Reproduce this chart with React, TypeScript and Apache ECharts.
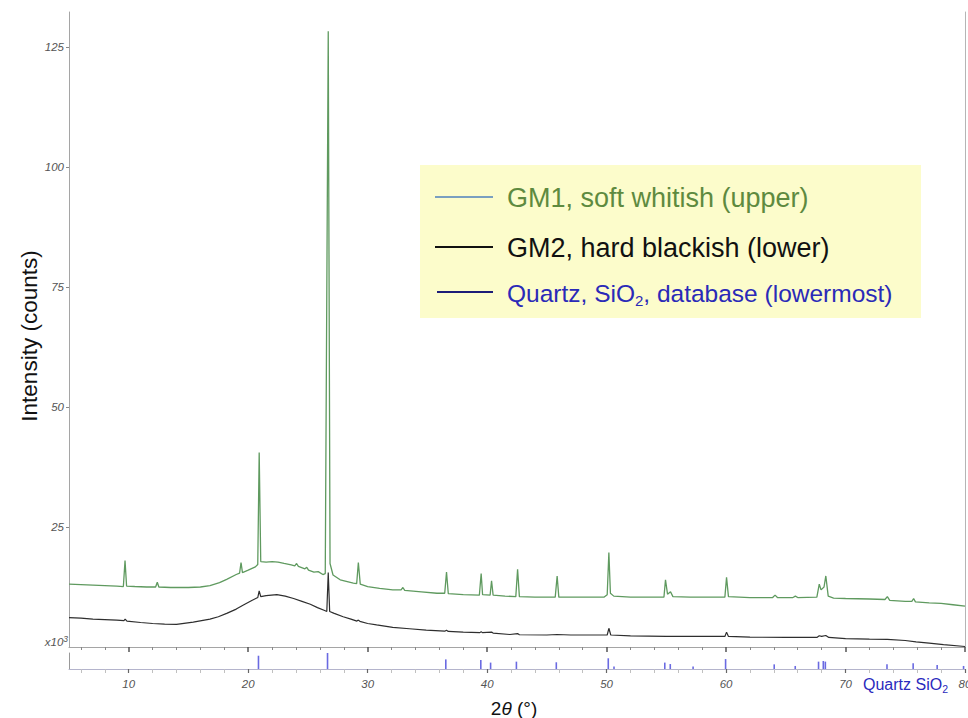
import React, { useEffect, useRef } from 'react';
import * as echarts from 'echarts';

// 2θ (degrees) and intensity (x10^3 counts)
const gm1Theta = [
  5.0, 6.0, 7.0, 8.0, 9.0, 9.55, 9.69, 9.82, 10.5, 11.5, 12.25, 12.39, 12.52, 13.5, 15.0, 16.0, 16.8, 17.6, 18.2, 19.0,
  19.28, 19.4, 19.52, 20.0, 20.6, 20.8, 20.92, 21.05, 21.5, 22.0, 22.5, 23.0, 23.6, 23.9, 24.05, 24.2, 24.75, 24.9, 25.05, 25.5,
  25.86, 26.25, 26.45, 26.7, 26.85, 27.1, 27.7, 28.8, 29.08, 29.22, 29.38, 30.0, 31.0, 32.1, 32.8, 32.95, 33.1, 34.5, 35.8, 36.45,
  36.6, 36.75, 38.0, 39.35, 39.5, 39.62, 40.25, 40.37, 40.5, 41.5, 42.4, 42.55, 42.7, 44.0, 45.7, 45.86, 46.0, 48.0, 49.8, 50.05,
  50.19, 50.32, 50.6, 52.0, 54.8, 54.93, 55.1, 55.35, 55.55, 57.0, 59.9, 60.04, 60.2, 62.0, 63.9, 64.1, 64.3, 65.6, 65.8, 66.0,
  67.6, 67.8, 67.95, 68.2, 68.35, 68.55, 69.0, 70.0, 72.0, 73.3, 73.5, 73.7, 75.0, 75.55, 75.7, 75.85, 77.0, 78.0, 79.0, 80.0,
];
const gm1Counts = [
  13.1, 13.0, 12.9, 12.8, 12.7, 12.6, 18.0, 12.7, 12.6, 12.5, 12.5, 13.5, 12.5, 12.4, 12.4, 12.5, 12.8, 13.4, 14.1, 15.1,
  15.4, 17.6, 15.5, 16.0, 16.7, 17.2, 40.5, 17.8, 17.7, 17.8, 17.7, 17.4, 17.1, 16.9, 17.4, 16.8, 16.3, 16.6, 16.0, 15.6,
  15.7, 15.1, 15.3, 128.3, 17.4, 15.0, 14.0, 13.3, 13.2, 17.6, 13.1, 12.6, 12.2, 11.9, 11.9, 12.4, 11.8, 11.5, 11.2, 11.2,
  15.6, 11.1, 10.9, 10.8, 15.3, 10.9, 10.8, 13.8, 10.8, 10.6, 10.5, 16.2, 10.5, 10.4, 10.4, 14.8, 10.4, 10.4, 10.4, 10.9,
  19.7, 11.2, 10.6, 10.4, 10.4, 14.0, 11.0, 11.5, 10.5, 10.4, 10.4, 14.5, 10.5, 10.3, 10.3, 10.8, 10.3, 10.3, 10.6, 10.3,
  10.4, 13.1, 11.9, 12.5, 14.8, 10.6, 10.2, 10.1, 10.0, 9.9, 10.5, 9.7, 9.5, 9.5, 10.1, 9.4, 9.2, 9.1, 8.8, 8.5,
];

const gm2Theta = [
  5.0, 6.0, 7.0, 8.0, 9.0, 9.6, 9.7, 9.85, 11.0, 12.0, 13.0, 14.0, 15.4, 16.8, 17.5, 18.2, 19.0, 19.6, 20.3, 20.8,
  20.92, 21.05, 21.5, 22.4, 23.1, 23.8, 24.5, 25.2, 25.8, 26.4, 26.58, 26.7, 26.82, 27.2, 27.95, 28.6, 29.1, 29.22, 29.35, 30.0,
  30.75, 32.1, 33.5, 34.9, 36.45, 36.6, 36.75, 38.0, 39.4, 39.5, 39.6, 40.37, 40.5, 41.9, 42.55, 42.7, 45.0, 45.86, 47.0, 50.05,
  50.19, 50.35, 52.0, 55.0, 57.0, 59.9, 60.04, 60.2, 62.0, 65.0, 67.6, 67.8, 68.0, 68.35, 68.6, 70.0, 72.0, 73.5, 75.0, 75.9,
  77.0, 78.2, 80.0,
];
const gm2Counts = [
  6.1, 6.0, 5.8, 5.7, 5.6, 5.5, 5.8, 5.4, 5.1, 4.9, 4.75, 4.7, 5.2, 5.8, 6.3, 7.0, 7.9, 8.75, 9.7, 10.3,
  11.7, 10.5, 10.7, 10.9, 10.6, 10.1, 9.5, 8.9, 8.2, 7.6, 7.4, 15.5, 7.4, 7.0, 6.3, 5.8, 5.4, 5.6, 5.35, 4.9,
  4.6, 4.1, 3.8, 3.5, 3.3, 3.5, 3.25, 3.1, 3.0, 3.2, 3.0, 3.1, 2.9, 2.6, 2.8, 2.55, 2.5, 2.6, 2.5, 2.5,
  3.9, 2.5, 2.3, 2.2, 2.2, 2.2, 3.1, 2.2, 2.05, 2.0, 2.0, 2.35, 2.2, 2.4, 2.0, 1.75, 1.65, 1.6, 1.35, 1.05,
  0.8, 0.5, 0.1,
];

// Quartz database stick pattern (relative intensity as drawn)
const quartzTheta = [
  20.86, 26.64, 36.54, 39.47, 40.29, 42.45, 45.79, 50.14, 50.62, 54.87, 55.33, 57.24, 59.96, 64.03, 65.79, 67.74, 68.14, 68.31,
  73.47, 75.66, 77.67, 79.88,
];
const quartzRel = [83, 100, 60, 56, 40, 46, 42, 67, 15, 40, 31, 15, 62, 29, 19, 46, 50, 46, 29, 36, 25, 19];

const yTickValues = [25, 50, 75, 100, 125];
const xMajorTicks = [10, 20, 30, 40, 50, 60, 70, 80];
const xMinorTicks = [
  6, 8, 12, 14, 16, 18, 22, 24, 26, 28, 32, 34, 36, 38, 42, 44, 46, 48, 52, 54, 56, 58, 62, 64, 66, 68, 72, 74, 76, 78,
];

const legendLabels = ['GM1, soft whitish (upper)', 'GM2, hard blackish (lower)'];

const FONT = '"Liberation Sans", Arial, sans-serif';

export default function App() {
  const ref = useRef<HTMLDivElement>(null);

  useEffect(() => {
    if (!ref.current) return;
    const chart = echarts.init(ref.current, undefined, { renderer: 'svg' });

    const gm1 = gm1Theta.map((t, i) => [t, gm1Counts[i]]);
    const gm2 = gm2Theta.map((t, i) => [t, gm2Counts[i]]);
    const sticks = quartzTheta.map((t, i) => [t, quartzRel[i]]);

    const tickLabelStyle = { fontStyle: 'italic', fontSize: 11.5, color: '#555', fontFamily: FONT };

    chart.setOption({
      animation: false,
      backgroundColor: '#ffffff',
      grid: [
        { left: 69, top: 12, width: 896, height: 635, outerBoundsMode: 'none' },
        { left: 69, top: 653, width: 896, height: 16, outerBoundsMode: 'none' },
      ],
      xAxis: [
        {
          gridIndex: 0, type: 'value', position: 'bottom', min: 5, max: 80,
          axisLine: { show: true, lineStyle: { color: '#a5a5a5', width: 1 } },
          axisTick: { show: true, customValues: xMajorTicks, length: 5, lineStyle: { color: '#555', width: 1.5 } },
          axisLabel: { show: false },
          splitLine: { show: false },
        },
        {
          gridIndex: 0, type: 'value', position: 'bottom', min: 5, max: 80,
          axisLine: { show: false },
          axisTick: { show: true, customValues: xMinorTicks, length: 3, lineStyle: { color: '#888', width: 1 } },
          axisLabel: { show: false },
          splitLine: { show: false },
        },
        {
          gridIndex: 1, type: 'value', position: 'bottom', min: 5, max: 80,
          axisLine: { show: true, lineStyle: { color: '#b4b4cc', width: 1 } },
          axisTick: { show: true, customValues: xMajorTicks, length: 4, lineStyle: { color: '#666', width: 1.2 } },
          axisLabel: { show: true, customValues: xMajorTicks, margin: 9, hideOverlap: false, ...tickLabelStyle },
          splitLine: { show: false },
        },
        {
          gridIndex: 1, type: 'value', position: 'bottom', min: 5, max: 80,
          axisLine: { show: false },
          axisTick: { show: true, customValues: xMinorTicks, length: 4, lineStyle: { color: '#c0c0c0', width: 1 } },
          axisLabel: { show: false },
          splitLine: { show: false },
        },
      ],
      yAxis: [
        {
          gridIndex: 0, type: 'value', position: 'left', min: 0, max: 132.3,
          axisLine: { show: true, lineStyle: { color: '#a5a5a5', width: 1 } },
          axisTick: { show: true, customValues: yTickValues, length: 3, lineStyle: { color: '#888' } },
          axisLabel: { show: true, customValues: yTickValues, margin: 5, ...tickLabelStyle },
          splitLine: { show: false },
        },
        {
          gridIndex: 0, type: 'value', position: 'right', min: 0, max: 132.3,
          axisLine: { show: true, lineStyle: { color: '#b5b5b5', width: 1 } },
          axisTick: { show: false },
          axisLabel: { show: false },
          splitLine: { show: false },
        },
        {
          gridIndex: 1, type: 'value', position: 'left', min: 0, max: 100,
          axisLine: { show: true, lineStyle: { color: '#999', width: 1 } },
          axisTick: { show: false },
          axisLabel: { show: false },
          splitLine: { show: false },
        },
      ],
      series: [
        {
          name: legendLabels[0], type: 'line', xAxisIndex: 0, yAxisIndex: 0, data: gm1,
          showSymbol: false, symbol: 'none', lineStyle: { color: '#5f9a5f', width: 1.3 },
          itemStyle: { color: '#5f9a5f' }, z: 3,
        },
        {
          name: legendLabels[1], type: 'line', xAxisIndex: 0, yAxisIndex: 0, data: gm2,
          showSymbol: false, symbol: 'none', lineStyle: { color: '#2e2e2e', width: 1.2 },
          itemStyle: { color: '#2e2e2e' }, z: 3,
        },
        {
          name: 'Quartz SiO2', type: 'custom', xAxisIndex: 2, yAxisIndex: 2, data: sticks,
          encode: { x: 0, y: 1 },
          renderItem: (_params: any, api: any) => {
            const x = api.value(0);
            const h = api.value(1);
            const p0 = api.coord([x, 0]);
            const p1 = api.coord([x, h]);
            return {
              type: 'line',
              shape: { x1: p0[0], y1: p0[1], x2: p1[0], y2: p1[1] },
              style: { stroke: '#6a6ae2', lineWidth: 1.6 },
            };
          },
        },
      ],
      graphic: [
        {
          type: 'rect', z: 10,
          shape: { x: 420, y: 165, width: 501, height: 153 },
          style: { fill: '#fcfccb' },
        },
        {
          type: 'line', z: 11,
          shape: { x1: 435, y1: 197, x2: 493, y2: 197 },
          style: { stroke: '#4f81bd', lineWidth: 1.5 },
        },
        {
          type: 'text', z: 11, x: 507, y: 198,
          style: { text: legendLabels[0], fill: '#5e8a3f', fontSize: 27, fontFamily: FONT, verticalAlign: 'middle' },
        },
        {
          type: 'line', z: 11,
          shape: { x1: 435, y1: 247, x2: 493, y2: 247 },
          style: { stroke: '#111', lineWidth: 1.8 },
        },
        {
          type: 'text', z: 11, x: 507, y: 248,
          style: { text: legendLabels[1], fill: '#111', fontSize: 27, fontFamily: FONT, verticalAlign: 'middle' },
        },
        {
          type: 'line', z: 11,
          shape: { x1: 437, y1: 292, x2: 493, y2: 292 },
          style: { stroke: '#1c1c78', lineWidth: 1.8 },
        },
        {
          type: 'text', z: 11, x: 507, y: 293,
          style: {
            text: '{a|Quartz, SiO}{s|2}{a|, database (lowermost)}',
            verticalAlign: 'middle',
            rich: {
              a: { fontSize: 24.5, fontFamily: FONT, fill: '#2a2ab8', lineHeight: 30 },
              s: { fontSize: 15, fontFamily: FONT, fill: '#2a2ab8', lineHeight: 18, verticalAlign: 'bottom' },
            },
          },
        },
        {
          type: 'text', x: 29, y: 336, rotation: Math.PI / 2,
          style: { text: 'Intensity (counts)', fill: '#111', fontSize: 22.5, fontFamily: FONT, align: 'center', verticalAlign: 'middle' },
        },
        {
          type: 'text', x: 514, y: 708,
          style: {
            text: '{a|2}{b|θ}{a| (°)}',
            align: 'center', verticalAlign: 'middle',
            rich: {
              a: { fontSize: 19, fontFamily: FONT, fill: '#111' },
              b: { fontSize: 19, fontFamily: FONT, fill: '#111', fontStyle: 'italic' },
            },
          },
        },
        {
          type: 'text', x: 68, y: 641,
          style: {
            text: '{a|x10}{b|3}',
            align: 'right', verticalAlign: 'middle',
            rich: {
              a: { fontSize: 11.5, fontFamily: FONT, fill: '#555', fontStyle: 'italic', lineHeight: 14, verticalAlign: 'bottom' },
              b: { fontSize: 8.5, fontFamily: FONT, fill: '#555', fontStyle: 'italic', lineHeight: 14, verticalAlign: 'top' },
            },
          },
        },
        {
          type: 'text', x: 863, y: 684,
          style: {
            text: '{a|Quartz SiO}{s|2}',
            verticalAlign: 'middle',
            rich: {
              a: { fontSize: 16, fontFamily: FONT, fill: '#2b2bbd', lineHeight: 20 },
              s: { fontSize: 10.5, fontFamily: FONT, fill: '#2b2bbd', lineHeight: 12, verticalAlign: 'bottom' },
            },
          },
        },
      ],
    });

    return () => chart.dispose();
  }, []);

  return (
    <div
      ref={ref}
      style={{ position: 'fixed', left: 0, top: 0, width: 968, height: 718, background: '#fff' }}
    />
  );
}
